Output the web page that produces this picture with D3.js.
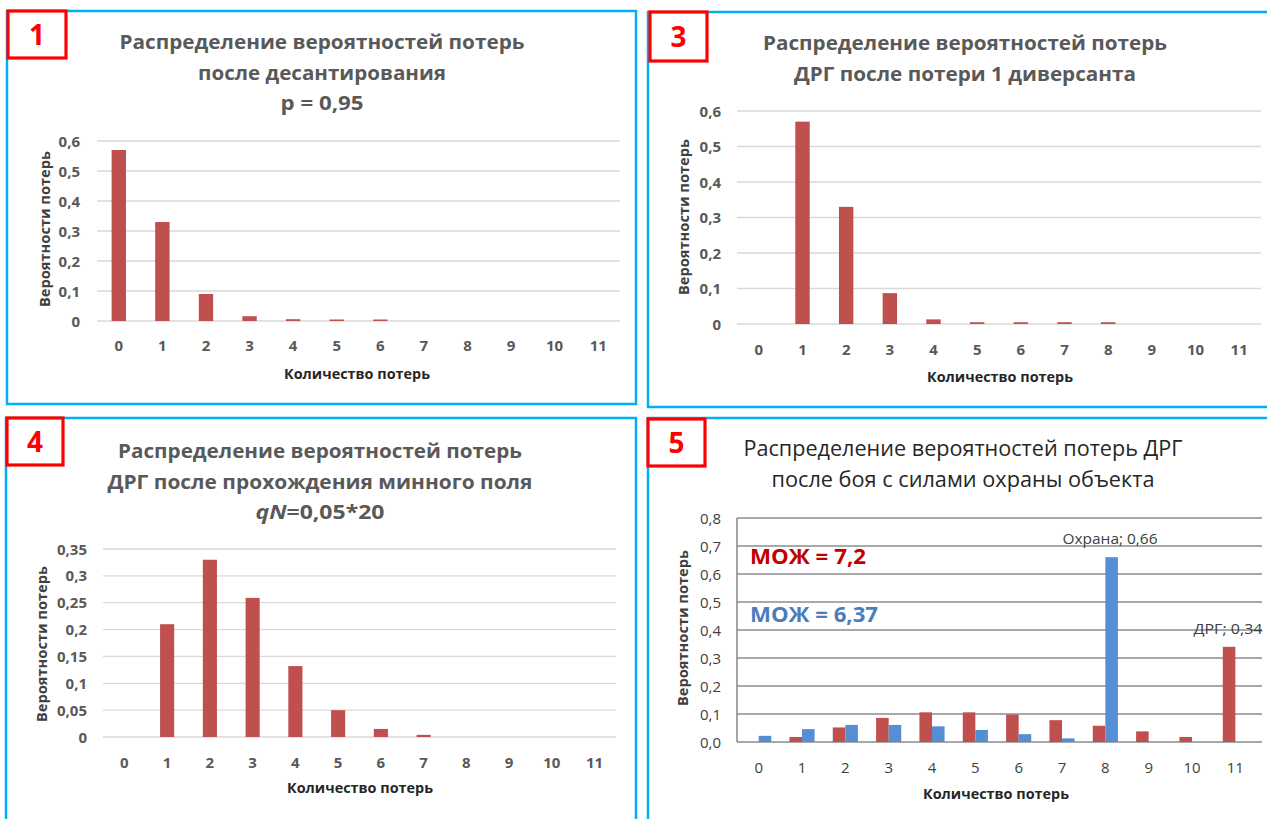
<!DOCTYPE html>
<html><head><meta charset="utf-8">
<script src="https://cdn.jsdelivr.net/npm/d3@7/dist/d3.min.js"></script>
<style>
body{margin:0;background:#fff;}
svg{display:block;}
text{font-family:"Open Sans","Noto Sans",sans-serif;}
</style>
</head><body>
<svg id="c" width="1267" height="819"></svg>
<script>
// ---------- DATA ----------
const categories = ["0","1","2","3","4","5","6","7","8","9","10","11"];

const p1Values = [0.57, 0.33, 0.09, 0.016, 0.006, 0.005, 0.005, 0, 0, 0, 0, 0];
const p3Values = [0, 0.57, 0.33, 0.087, 0.013, 0.005, 0.005, 0.005, 0.005, 0, 0, 0];
const p4Values = [0, 0.21, 0.33, 0.259, 0.132, 0.05, 0.015, 0.004, 0, 0, 0, 0];
const p5Drg    = [0, 0.018, 0.052, 0.086, 0.106, 0.106, 0.098, 0.078, 0.058, 0.038, 0.018, 0.34];
const p5Guard  = [0.022, 0.046, 0.061, 0.061, 0.056, 0.043, 0.028, 0.013, 0.66, 0, 0, 0];

const p1Ticks = [0, 0.1, 0.2, 0.3, 0.4, 0.5, 0.6];
const p1TickLabels = ["0","0,1","0,2","0,3","0,4","0,5","0,6"];
const p3Ticks = [0, 0.1, 0.2, 0.3, 0.4, 0.5, 0.6];
const p3TickLabels = ["0","0,1","0,2","0,3","0,4","0,5","0,6"];
const p4Ticks = [0, 0.05, 0.1, 0.15, 0.2, 0.25, 0.3, 0.35];
const p4TickLabels = ["0","0,05","0,1","0,15","0,2","0,25","0,3","0,35"];
const p5Ticks = [0, 0.1, 0.2, 0.3, 0.4, 0.5, 0.6, 0.7, 0.8];
const p5TickLabels = ["0,0","0,1","0,2","0,3","0,4","0,5","0,6","0,7","0,8"];

const p1Title = ["Распределение вероятностей потерь", "после десантирования", "p = 0,95"];
const p3Title = ["Распределение вероятностей потерь", "ДРГ после потери 1 диверсанта"];
const p4Title = ["Распределение вероятностей потерь", "ДРГ после прохождения минного поля"];
const p5Title = ["Распределение вероятностей потерь ДРГ", "после боя с силами охраны объекта"];
const xAxisTitle = "Количество  потерь";
const yAxisTitle = "Вероятности  потерь";
const seriesNames = ["ДРГ", "Охрана"];
const mozDrg = "МОЖ = 7,2";
const mozGuard = "МОЖ = 6,37";

// ---------- STYLE ----------
const RED = "#c0504d", BLUE = "#558ed5", FRAME = "#00b0f0", BOXRED = "#ff0000";
const svg = d3.select("#c");

function frame(x, y, w, h, num, bx, by, bw, bh) {
  svg.append("rect").attr("x", x).attr("y", y).attr("width", w).attr("height", h)
    .attr("fill", "none").attr("stroke", FRAME).attr("stroke-width", 2.5);
  svg.append("rect").attr("x", bx).attr("y", by).attr("width", bw).attr("height", bh)
    .attr("fill", "#fff").attr("stroke", BOXRED).attr("stroke-width", 3.2);
  svg.append("text").attr("x", bx + bw / 2).attr("y", by + bh / 2 + 10)
    .attr("text-anchor", "middle").attr("font-size", 28).attr("font-weight", 700)
    .attr("fill", BOXRED).text(num);
}

function titleLines(lines, cx, baselines, widths, opts) {
  lines.forEach((t, i) => {
    svg.append("text").attr("x", cx).attr("y", baselines[i]).attr("text-anchor", "middle")
      .attr("font-size", opts.size).attr("font-weight", opts.weight).attr("fill", opts.color)
      .attr("textLength", widths[i]).attr("lengthAdjust", "spacingAndGlyphs").text(t);
  });
}

function panel(cfg) {
  const g = svg.append("g");
  const x = d3.scaleBand().domain(categories).range([cfg.x0, cfg.x1]);
  const y = d3.scaleLinear().domain([0, cfg.ymax]).range([cfg.yb, cfg.yt]);
  const bw = x.bandwidth();
  // gridlines
  g.selectAll("line.grid").data(cfg.ticks).join("line")
    .attr("x1", cfg.x0).attr("x2", cfg.gx1 || cfg.x1)
    .attr("y1", d => y(d)).attr("y2", d => y(d))
    .attr("stroke", cfg.gridColor).attr("stroke-width", cfg.gridWidth);
  if (cfg.axisLine) {
    g.append("line").attr("x1", cfg.x0).attr("x2", cfg.x0).attr("y1", y(cfg.ymax)).attr("y2", y(0))
      .attr("stroke", cfg.gridColor).attr("stroke-width", cfg.gridWidth);
  }
  // y tick labels
  g.selectAll("text.yt").data(cfg.ticks).join("text")
    .attr("x", cfg.ylabX).attr("y", d => y(d) + 5.5).attr("text-anchor", "end")
    .attr("font-size", cfg.tickSize).attr("font-weight", cfg.tickWeight).attr("fill", cfg.tickColor)
    .text((d, i) => cfg.tickLabels[i]);
  // x tick labels
  g.selectAll("text.xt").data(categories).join("text")
    .attr("x", d => x(d) + bw / 2).attr("y", cfg.xlabY).attr("text-anchor", "middle")
    .attr("font-size", cfg.tickSize).attr("font-weight", cfg.tickWeight).attr("fill", cfg.tickColor)
    .text(d => d);
  // bars
  const inner = d3.scaleBand().domain(cfg.series.map((s, i) => i))
    .range(cfg.series.length === 1 ? [bw * 0.335, bw * 0.665] : [bw * 0.21, bw * 0.79]);
  cfg.series.forEach((s, si) => {
    g.selectAll(null).data(s.values.map((v, i) => ({ c: categories[i], v }))).join("rect")
      .attr("x", d => x(d.c) + inner(si)).attr("width", inner.bandwidth())
      .attr("y", d => y(d.v)).attr("height", d => y(0) - y(d.v))
      .attr("fill", s.color);
  });
  // axis titles
  g.append("text").attr("x", cfg.xtX).attr("y", cfg.xtY).attr("text-anchor", "middle")
    .attr("font-size", 14).attr("font-weight", 700).attr("fill", "#262626")
    .attr("textLength", 146).attr("lengthAdjust", "spacingAndGlyphs").text(xAxisTitle);
  g.append("text").attr("transform", `translate(${cfg.ytX},${cfg.ytY}) rotate(-90)`)
    .attr("text-anchor", "middle").attr("font-size", 14).attr("font-weight", 700).attr("fill", "#404040")
    .attr("textLength", 156).attr("lengthAdjust", "spacingAndGlyphs").text(yAxisTitle);
  return { x, y, bw, inner };
}

// ---------- PANEL 1 ----------
frame(7, 11, 629, 393, "1", 8, 11, 58, 47);
titleLines(p1Title, 322, [49, 80, 110], [405, 248, 83], { size: 20, weight: 700, color: "#595959" });
panel({ x0: 97, x1: 620, yt: 141, yb: 321, ymax: 0.6, ticks: p1Ticks, tickLabels: p1TickLabels,
  gridColor: "#d9d9d9", gridWidth: 1.3, ylabX: 80, xlabY: 351, tickSize: 15, tickWeight: 700, tickColor: "#595959",
  series: [{ values: p1Values, color: RED }], xtX: 357, xtY: 379, ytX: 50, ytY: 229 });

// ---------- PANEL 3 ----------
frame(648, 12, 640, 395, "3", 650, 12, 57, 49);
titleLines(p3Title, 965, [50, 81], [404, 342], { size: 20, weight: 700, color: "#595959" });
panel({ x0: 737, x1: 1261, yt: 111, yb: 324, ymax: 0.6, ticks: p3Ticks, tickLabels: p3TickLabels,
  gridColor: "#d9d9d9", gridWidth: 1.3, ylabX: 721, xlabY: 355, tickSize: 15, tickWeight: 700, tickColor: "#595959",
  series: [{ values: p3Values, color: RED }], xtX: 1000, xtY: 382, ytX: 689, ytY: 217 });

// ---------- PANEL 4 ----------
frame(6, 418, 630, 420, "4", 7, 418, 56, 47);
titleLines(p4Title, 320, [458, 489], [404, 425], { size: 20, weight: 700, color: "#595959" });
{
  const t = svg.append("text").attr("x", 320).attr("y", 519).attr("text-anchor", "middle")
    .attr("font-size", 20).attr("font-weight", 700).attr("fill", "#595959")
    .attr("textLength", 129).attr("lengthAdjust", "spacingAndGlyphs");
  t.append("tspan").attr("font-style", "italic").text("qN");
  t.append("tspan").text("=0,05*20");
}
panel({ x0: 103, x1: 616, yt: 549, yb: 737, ymax: 0.35, ticks: p4Ticks, tickLabels: p4TickLabels,
  gridColor: "#d9d9d9", gridWidth: 1.3, ylabX: 87, xlabY: 768, tickSize: 15, tickWeight: 700, tickColor: "#595959",
  series: [{ values: p4Values, color: RED }], xtX: 360, xtY: 793, ytX: 47, ytY: 644 });

// ---------- PANEL 5 ----------
frame(648, 418, 640, 420, "5", 648, 419, 57, 47);
titleLines(p5Title, 963, [456, 487], [439, 383], { size: 21, weight: 400, color: "#262626" });
const p5 = panel({ x0: 737, x1: 1257, gx1: 1262, yt: 518, yb: 742, ymax: 0.8, ticks: p5Ticks, tickLabels: p5TickLabels,
  gridColor: "#8c8c8c", gridWidth: 1.6, axisLine: true, ylabX: 721, xlabY: 773, tickSize: 15, tickWeight: 400, tickColor: "#404040",
  series: [{ values: p5Drg, color: RED }, { values: p5Guard, color: BLUE }], xtX: 996, xtY: 799, ytX: 688, ytY: 628 });
// data labels for maxima
{
  const gi = p5Guard.indexOf(d3.max(p5Guard));
  const di = p5Drg.indexOf(d3.max(p5Drg));
  svg.append("text").attr("x", 1110).attr("y", p5.y(p5Guard[gi]) - 13).attr("text-anchor", "middle")
    .attr("font-size", 14).attr("fill", "#404040").attr("textLength", 95).attr("lengthAdjust", "spacingAndGlyphs")
    .text(`${seriesNames[1]}; ${String(p5Guard[gi]).replace(".", ",")}`);
  svg.append("text").attr("x", 1228).attr("y", p5.y(p5Drg[di]) - 13).attr("text-anchor", "middle")
    .attr("font-size", 14).attr("fill", "#404040").attr("textLength", 69).attr("lengthAdjust", "spacingAndGlyphs")
    .text(`${seriesNames[0]}; ${String(p5Drg[di]).replace(".", ",")}`);
}
svg.append("text").attr("x", 750).attr("y", 564).attr("font-size", 22).attr("font-weight", 700)
  .attr("fill", "#c00000").attr("textLength", 116).attr("lengthAdjust", "spacingAndGlyphs").text(mozDrg);
svg.append("text").attr("x", 750).attr("y", 622).attr("font-size", 22).attr("font-weight", 700)
  .attr("fill", "#4a7ebb").attr("textLength", 128).attr("lengthAdjust", "spacingAndGlyphs").text(mozGuard);
</script>
</body></html>
